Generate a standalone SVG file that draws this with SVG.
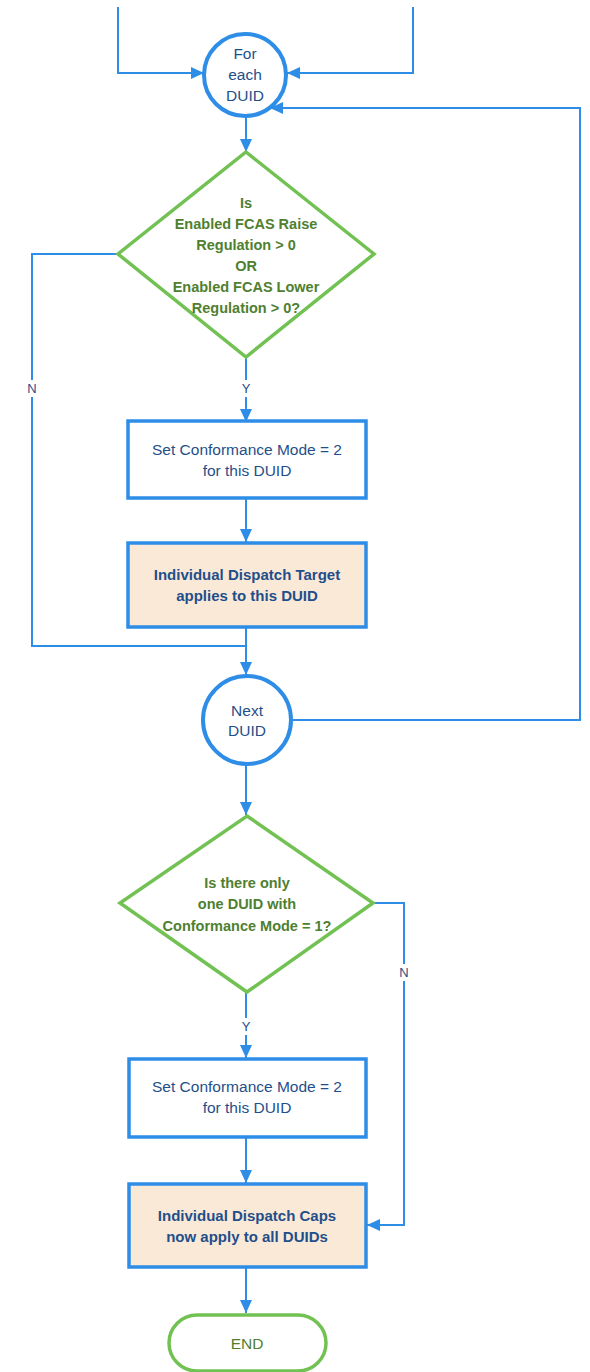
<svg xmlns="http://www.w3.org/2000/svg" width="590" height="1372" viewBox="0 0 590 1372">
<style>
.c{fill:none;stroke:#2e8de6;stroke-width:2}
.box{fill:#fff;stroke:#2e8de6;stroke-width:3.5}
.hl{fill:#fbe9d8;stroke:#2e8de6;stroke-width:3.5}
.circ{fill:#fff;stroke:#2e8de6;stroke-width:4}
.dia{fill:#fff;stroke:#72c153;stroke-width:3.5}
.t{font-family:"Liberation Sans",Arial,sans-serif;font-size:15.5px;fill:#1f4f8a;text-anchor:middle}
.b{font-weight:bold;font-size:15px}
.g{fill:#4e8030;font-weight:bold;font-size:14.5px}
.lbl{font-family:"Liberation Sans",Arial,sans-serif;font-size:13px;fill:#1f4f8a;text-anchor:middle}
</style>
<defs>
<marker id="ah" markerUnits="userSpaceOnUse" markerWidth="14" markerHeight="14" viewBox="0 0 14 14" refX="13" refY="7" orient="auto">
<path d="M0,1 L13,7 L0,13 Z" fill="#2e8de6"/>
</marker>
</defs>
<g id="connectors">
<path class="c" d="M118,7 V73 H204" marker-end="url(#ah)"/>
<path class="c" d="M413,7 V73 H287" marker-end="url(#ah)"/>
<path class="c" d="M246,117 V152" marker-end="url(#ah)"/>
<path class="c" d="M246,357 V380"/>
<path class="c" d="M246,397 V422" marker-end="url(#ah)"/>
<path class="c" d="M246,499 V542" marker-end="url(#ah)"/>
<path class="c" d="M118,254 H32 V380"/>
<path class="c" d="M32,397 V646 H246"/>
<path class="c" d="M246,628 V675" marker-end="url(#ah)"/>
<path class="c" d="M292,720 H580 V108 H270" marker-end="url(#ah)"/>
<path class="c" d="M246,765 V815" marker-end="url(#ah)"/>
<path class="c" d="M373,903 H404 V964"/>
<path class="c" d="M404,981 V1225 H367" marker-end="url(#ah)"/>
<path class="c" d="M246,992 V1018"/>
<path class="c" d="M246,1035 V1058" marker-end="url(#ah)"/>
<path class="c" d="M246,1138 V1183" marker-end="url(#ah)"/>
<path class="c" d="M246,1268 V1313" marker-end="url(#ah)"/>
<text class="lbl" x="246" y="393">Y</text>
<text class="lbl" x="32" y="393">N</text>
<text class="lbl" x="404" y="977">N</text>
<text class="lbl" x="246" y="1031">Y</text>
</g>
<g id="for-each">
<circle class="circ" cx="245" cy="75" r="41"/>
<text class="t" x="245" y="59">For</text>
<text class="t" x="245" y="80">each</text>
<text class="t" x="245" y="101">DUID</text>
</g>
<g id="decision1">
<polygon class="dia" points="246,152 374,254 246,357 118,254"/>
<text class="t g" x="246" y="208">Is</text>
<text class="t g" x="246" y="229">Enabled FCAS Raise</text>
<text class="t g" x="246" y="250">Regulation &gt; 0</text>
<text class="t g" x="246" y="271">OR</text>
<text class="t g" x="246" y="292">Enabled FCAS Lower</text>
<text class="t g" x="246" y="313">Regulation &gt; 0?</text>
</g>
<g id="set-mode1">
<rect class="box" x="128" y="421" width="238" height="77"/>
<text class="t" x="247" y="455">Set Conformance Mode = 2</text>
<text class="t" x="247" y="476">for this DUID</text>
</g>
<g id="target">
<rect class="hl" x="128" y="543" width="238" height="84"/>
<text class="t b" x="247" y="580">Individual Dispatch Target</text>
<text class="t b" x="247" y="601">applies to this DUID</text>
</g>
<g id="next-duid">
<circle class="circ" cx="247" cy="720" r="44"/>
<text class="t" x="247" y="716">Next</text>
<text class="t" x="247" y="736">DUID</text>
</g>
<g id="decision2">
<polygon class="dia" points="247,816 373,903 247,992 120,903"/>
<text class="t g" x="247" y="888">Is there only</text>
<text class="t g" x="247" y="909">one DUID with</text>
<text class="t g" x="247" y="931">Conformance Mode = 1?</text>
</g>
<g id="set-mode2">
<rect class="box" x="129" y="1059" width="237" height="78"/>
<text class="t" x="247" y="1092">Set Conformance Mode = 2</text>
<text class="t" x="247" y="1113">for this DUID</text>
</g>
<g id="caps">
<rect class="hl" x="129" y="1184" width="237" height="83"/>
<text class="t b" x="247" y="1221">Individual Dispatch Caps</text>
<text class="t b" x="247" y="1242">now apply to all DUIDs</text>
</g>
<g id="end">
<rect x="169" y="1315" width="157" height="56" rx="28" fill="#fff" stroke="#72c153" stroke-width="3.5"/>
<text class="t" x="247" y="1349" style="fill:#4e8030">END</text>
</g>
</svg>
